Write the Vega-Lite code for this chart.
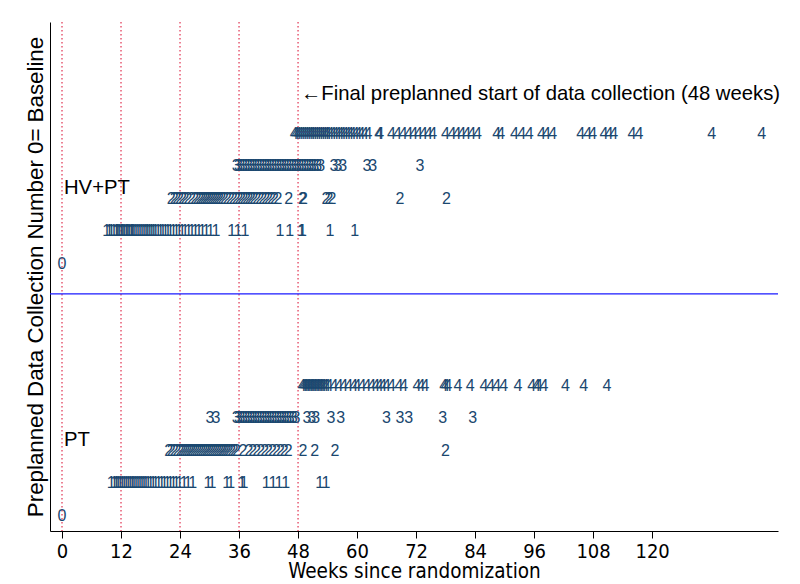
{
  "$schema": "https://vega.github.io/schema/vega-lite/v6.json",
  "width": 728,
  "height": 509,
  "autosize": {"type": "none"},
  "padding": {"left": 50, "top": 22, "right": 22, "bottom": 53},
  "background": "white",
  "config": {"view": {"stroke": null}},
  "datasets": {
    "pts": [
      {"a":"H","n":"0","y":7.73,"w":0},
      {"a":"H","n":"1","y":8.73,"w":9.1},{"a":"H","n":"1","y":8.73,"w":9.6},{"a":"H","n":"1","y":8.73,"w":10},{"a":"H","n":"1","y":8.73,"w":10.5},{"a":"H","n":"1","y":8.73,"w":11},{"a":"H","n":"1","y":8.73,"w":11.3},{"a":"H","n":"1","y":8.73,"w":11.6},{"a":"H","n":"1","y":8.73,"w":12},{"a":"H","n":"1","y":8.73,"w":12.3},{"a":"H","n":"1","y":8.73,"w":12.6},{"a":"H","n":"1","y":8.73,"w":13},{"a":"H","n":"1","y":8.73,"w":13.3},{"a":"H","n":"1","y":8.73,"w":13.6},{"a":"H","n":"1","y":8.73,"w":14},{"a":"H","n":"1","y":8.73,"w":14.3},{"a":"H","n":"1","y":8.73,"w":14.6},{"a":"H","n":"1","y":8.73,"w":15},{"a":"H","n":"1","y":8.73,"w":15.4},{"a":"H","n":"1","y":8.73,"w":15.8},{"a":"H","n":"1","y":8.73,"w":16.2},{"a":"H","n":"1","y":8.73,"w":16.6},{"a":"H","n":"1","y":8.73,"w":17},{"a":"H","n":"1","y":8.73,"w":17.4},{"a":"H","n":"1","y":8.73,"w":17.8},{"a":"H","n":"1","y":8.73,"w":18.2},{"a":"H","n":"1","y":8.73,"w":18.6},{"a":"H","n":"1","y":8.73,"w":19},{"a":"H","n":"1","y":8.73,"w":19.5},{"a":"H","n":"1","y":8.73,"w":20},{"a":"H","n":"1","y":8.73,"w":20.5},{"a":"H","n":"1","y":8.73,"w":21},{"a":"H","n":"1","y":8.73,"w":21.5},{"a":"H","n":"1","y":8.73,"w":22},{"a":"H","n":"1","y":8.73,"w":22.6},{"a":"H","n":"1","y":8.73,"w":23.2},{"a":"H","n":"1","y":8.73,"w":23.8},{"a":"H","n":"1","y":8.73,"w":24.4},{"a":"H","n":"1","y":8.73,"w":25},{"a":"H","n":"1","y":8.73,"w":25.7},{"a":"H","n":"1","y":8.73,"w":26.4},{"a":"H","n":"1","y":8.73,"w":27.1},{"a":"H","n":"1","y":8.73,"w":27.8},{"a":"H","n":"1","y":8.73,"w":28.5},{"a":"H","n":"1","y":8.73,"w":29.3},{"a":"H","n":"1","y":8.73,"w":30.2},{"a":"H","n":"1","y":8.73,"w":31.3},{"a":"H","n":"1","y":8.73,"w":34.5},{"a":"H","n":"1","y":8.73,"w":35.8},{"a":"H","n":"1","y":8.73,"w":37.2},{"a":"H","n":"1","y":8.73,"w":44.3},{"a":"H","n":"1","y":8.73,"w":46.3},{"a":"H","n":"1","y":8.73,"w":48.7},{"a":"H","n":"1","y":8.73,"w":48.9},{"a":"H","n":"1","y":8.73,"w":54.5},{"a":"H","n":"1","y":8.73,"w":59.5},
      {"a":"H","n":"2","y":9.73,"w":22.2},{"a":"H","n":"2","y":9.73,"w":22.8},{"a":"H","n":"2","y":9.73,"w":23.3},{"a":"H","n":"2","y":9.73,"w":23.9},{"a":"H","n":"2","y":9.73,"w":24.5},{"a":"H","n":"2","y":9.73,"w":25},{"a":"H","n":"2","y":9.73,"w":25.6},{"a":"H","n":"2","y":9.73,"w":26.3},{"a":"H","n":"2","y":9.73,"w":27},{"a":"H","n":"2","y":9.73,"w":27.5},{"a":"H","n":"2","y":9.73,"w":28},{"a":"H","n":"2","y":9.73,"w":28.4},{"a":"H","n":"2","y":9.73,"w":28.8},{"a":"H","n":"2","y":9.73,"w":29.2},{"a":"H","n":"2","y":9.73,"w":29.6},{"a":"H","n":"2","y":9.73,"w":30},{"a":"H","n":"2","y":9.73,"w":30.4},{"a":"H","n":"2","y":9.73,"w":30.8},{"a":"H","n":"2","y":9.73,"w":31.2},{"a":"H","n":"2","y":9.73,"w":31.6},{"a":"H","n":"2","y":9.73,"w":32},{"a":"H","n":"2","y":9.73,"w":32.5},{"a":"H","n":"2","y":9.73,"w":33},{"a":"H","n":"2","y":9.73,"w":33.6},{"a":"H","n":"2","y":9.73,"w":34.2},{"a":"H","n":"2","y":9.73,"w":34.8},{"a":"H","n":"2","y":9.73,"w":35.4},{"a":"H","n":"2","y":9.73,"w":36},{"a":"H","n":"2","y":9.73,"w":36.5},{"a":"H","n":"2","y":9.73,"w":37},{"a":"H","n":"2","y":9.73,"w":37.5},{"a":"H","n":"2","y":9.73,"w":38},{"a":"H","n":"2","y":9.73,"w":38.5},{"a":"H","n":"2","y":9.73,"w":39},{"a":"H","n":"2","y":9.73,"w":39.6},{"a":"H","n":"2","y":9.73,"w":40.2},{"a":"H","n":"2","y":9.73,"w":40.8},{"a":"H","n":"2","y":9.73,"w":41.4},{"a":"H","n":"2","y":9.73,"w":42},{"a":"H","n":"2","y":9.73,"w":42.6},{"a":"H","n":"2","y":9.73,"w":43.2},{"a":"H","n":"2","y":9.73,"w":43.9},{"a":"H","n":"2","y":9.73,"w":46.1},{"a":"H","n":"2","y":9.73,"w":48.9},{"a":"H","n":"2","y":9.73,"w":49.1},{"a":"H","n":"2","y":9.73,"w":53.7},{"a":"H","n":"2","y":9.73,"w":54.3},{"a":"H","n":"2","y":9.73,"w":54.9},{"a":"H","n":"2","y":9.73,"w":68.7},{"a":"H","n":"2","y":9.73,"w":78.2},
      {"a":"H","n":"3","y":10.73,"w":35.4},{"a":"H","n":"3","y":10.73,"w":35.9},{"a":"H","n":"3","y":10.73,"w":36.4},{"a":"H","n":"3","y":10.73,"w":36.9},{"a":"H","n":"3","y":10.73,"w":37.4},{"a":"H","n":"3","y":10.73,"w":37.9},{"a":"H","n":"3","y":10.73,"w":38.4},{"a":"H","n":"3","y":10.73,"w":38.9},{"a":"H","n":"3","y":10.73,"w":39.4},{"a":"H","n":"3","y":10.73,"w":39.9},{"a":"H","n":"3","y":10.73,"w":40.4},{"a":"H","n":"3","y":10.73,"w":40.9},{"a":"H","n":"3","y":10.73,"w":41.4},{"a":"H","n":"3","y":10.73,"w":41.9},{"a":"H","n":"3","y":10.73,"w":42.4},{"a":"H","n":"3","y":10.73,"w":42.9},{"a":"H","n":"3","y":10.73,"w":43.4},{"a":"H","n":"3","y":10.73,"w":43.9},{"a":"H","n":"3","y":10.73,"w":44.4},{"a":"H","n":"3","y":10.73,"w":44.9},{"a":"H","n":"3","y":10.73,"w":45.4},{"a":"H","n":"3","y":10.73,"w":45.9},{"a":"H","n":"3","y":10.73,"w":46.4},{"a":"H","n":"3","y":10.73,"w":46.9},{"a":"H","n":"3","y":10.73,"w":47.4},{"a":"H","n":"3","y":10.73,"w":47.9},{"a":"H","n":"3","y":10.73,"w":48.4},{"a":"H","n":"3","y":10.73,"w":48.9},{"a":"H","n":"3","y":10.73,"w":49.4},{"a":"H","n":"3","y":10.73,"w":49.9},{"a":"H","n":"3","y":10.73,"w":50.4},{"a":"H","n":"3","y":10.73,"w":50.9},{"a":"H","n":"3","y":10.73,"w":51.4},{"a":"H","n":"3","y":10.73,"w":52},{"a":"H","n":"3","y":10.73,"w":52.6},{"a":"H","n":"3","y":10.73,"w":55.3},{"a":"H","n":"3","y":10.73,"w":56.1},{"a":"H","n":"3","y":10.73,"w":57.1},{"a":"H","n":"3","y":10.73,"w":62},{"a":"H","n":"3","y":10.73,"w":63.2},{"a":"H","n":"3","y":10.73,"w":72.8},
      {"a":"H","n":"4","y":11.73,"w":47.2},{"a":"H","n":"4","y":11.73,"w":47.6},{"a":"H","n":"4","y":11.73,"w":48},{"a":"H","n":"4","y":11.73,"w":48.4},{"a":"H","n":"4","y":11.73,"w":48.8},{"a":"H","n":"4","y":11.73,"w":49.2},{"a":"H","n":"4","y":11.73,"w":49.6},{"a":"H","n":"4","y":11.73,"w":50},{"a":"H","n":"4","y":11.73,"w":50.4},{"a":"H","n":"4","y":11.73,"w":50.8},{"a":"H","n":"4","y":11.73,"w":51.2},{"a":"H","n":"4","y":11.73,"w":51.6},{"a":"H","n":"4","y":11.73,"w":52},{"a":"H","n":"4","y":11.73,"w":52.4},{"a":"H","n":"4","y":11.73,"w":52.8},{"a":"H","n":"4","y":11.73,"w":53.2},{"a":"H","n":"4","y":11.73,"w":53.6},{"a":"H","n":"4","y":11.73,"w":54},{"a":"H","n":"4","y":11.73,"w":54.5},{"a":"H","n":"4","y":11.73,"w":55},{"a":"H","n":"4","y":11.73,"w":55.5},{"a":"H","n":"4","y":11.73,"w":56},{"a":"H","n":"4","y":11.73,"w":56.5},{"a":"H","n":"4","y":11.73,"w":57},{"a":"H","n":"4","y":11.73,"w":57.5},{"a":"H","n":"4","y":11.73,"w":58},{"a":"H","n":"4","y":11.73,"w":58.5},{"a":"H","n":"4","y":11.73,"w":59},{"a":"H","n":"4","y":11.73,"w":59.6},{"a":"H","n":"4","y":11.73,"w":60.2},{"a":"H","n":"4","y":11.73,"w":60.8},{"a":"H","n":"4","y":11.73,"w":61.5},{"a":"H","n":"4","y":11.73,"w":62.2},{"a":"H","n":"4","y":11.73,"w":64.4},{"a":"H","n":"4","y":11.73,"w":64.6},{"a":"H","n":"4","y":11.73,"w":67},{"a":"H","n":"4","y":11.73,"w":68.2},{"a":"H","n":"4","y":11.73,"w":69.4},{"a":"H","n":"4","y":11.73,"w":70.5},{"a":"H","n":"4","y":11.73,"w":71.5},{"a":"H","n":"4","y":11.73,"w":72.5},{"a":"H","n":"4","y":11.73,"w":73.5},{"a":"H","n":"4","y":11.73,"w":74.5},{"a":"H","n":"4","y":11.73,"w":75.4},{"a":"H","n":"4","y":11.73,"w":78},{"a":"H","n":"4","y":11.73,"w":79.3},{"a":"H","n":"4","y":11.73,"w":80.3},{"a":"H","n":"4","y":11.73,"w":81.3},{"a":"H","n":"4","y":11.73,"w":82.3},{"a":"H","n":"4","y":11.73,"w":83.3},{"a":"H","n":"4","y":11.73,"w":84.5},{"a":"H","n":"4","y":11.73,"w":88.4},{"a":"H","n":"4","y":11.73,"w":89.2},{"a":"H","n":"4","y":11.73,"w":92},{"a":"H","n":"4","y":11.73,"w":93.5},{"a":"H","n":"4","y":11.73,"w":95},{"a":"H","n":"4","y":11.73,"w":97.5},{"a":"H","n":"4","y":11.73,"w":98.5},{"a":"H","n":"4","y":11.73,"w":99.8},{"a":"H","n":"4","y":11.73,"w":105.5},{"a":"H","n":"4","y":11.73,"w":106.9},{"a":"H","n":"4","y":11.73,"w":107.9},{"a":"H","n":"4","y":11.73,"w":110.2},{"a":"H","n":"4","y":11.73,"w":111.2},{"a":"H","n":"4","y":11.73,"w":112.2},{"a":"H","n":"4","y":11.73,"w":115.9},{"a":"H","n":"4","y":11.73,"w":117.3},{"a":"H","n":"4","y":11.73,"w":132.1},{"a":"H","n":"4","y":11.73,"w":142.3},
      {"a":"P","n":"0","y":0,"w":0},
      {"a":"P","n":"1","y":1,"w":10},{"a":"P","n":"1","y":1,"w":10.6},{"a":"P","n":"1","y":1,"w":11},{"a":"P","n":"1","y":1,"w":11.4},{"a":"P","n":"1","y":1,"w":11.8},{"a":"P","n":"1","y":1,"w":12.2},{"a":"P","n":"1","y":1,"w":12.6},{"a":"P","n":"1","y":1,"w":13},{"a":"P","n":"1","y":1,"w":13.4},{"a":"P","n":"1","y":1,"w":13.8},{"a":"P","n":"1","y":1,"w":14.2},{"a":"P","n":"1","y":1,"w":14.6},{"a":"P","n":"1","y":1,"w":15},{"a":"P","n":"1","y":1,"w":15.4},{"a":"P","n":"1","y":1,"w":15.8},{"a":"P","n":"1","y":1,"w":16.2},{"a":"P","n":"1","y":1,"w":16.6},{"a":"P","n":"1","y":1,"w":17},{"a":"P","n":"1","y":1,"w":17.5},{"a":"P","n":"1","y":1,"w":18},{"a":"P","n":"1","y":1,"w":18.5},{"a":"P","n":"1","y":1,"w":19},{"a":"P","n":"1","y":1,"w":19.6},{"a":"P","n":"1","y":1,"w":20.2},{"a":"P","n":"1","y":1,"w":20.8},{"a":"P","n":"1","y":1,"w":21.4},{"a":"P","n":"1","y":1,"w":22},{"a":"P","n":"1","y":1,"w":22.6},{"a":"P","n":"1","y":1,"w":23.2},{"a":"P","n":"1","y":1,"w":23.9},{"a":"P","n":"1","y":1,"w":24.8},{"a":"P","n":"1","y":1,"w":25.6},{"a":"P","n":"1","y":1,"w":26.6},{"a":"P","n":"1","y":1,"w":29.7},{"a":"P","n":"1","y":1,"w":30.5},{"a":"P","n":"1","y":1,"w":33.5},{"a":"P","n":"1","y":1,"w":34.3},{"a":"P","n":"1","y":1,"w":36.6},{"a":"P","n":"1","y":1,"w":37},{"a":"P","n":"1","y":1,"w":41.5},{"a":"P","n":"1","y":1,"w":42.9},{"a":"P","n":"1","y":1,"w":44.1},{"a":"P","n":"1","y":1,"w":45.5},{"a":"P","n":"1","y":1,"w":52.4},{"a":"P","n":"1","y":1,"w":53.7},
      {"a":"P","n":"2","y":2,"w":21.7},{"a":"P","n":"2","y":2,"w":22.2},{"a":"P","n":"2","y":2,"w":22.8},{"a":"P","n":"2","y":2,"w":23.4},{"a":"P","n":"2","y":2,"w":24},{"a":"P","n":"2","y":2,"w":24.4},{"a":"P","n":"2","y":2,"w":24.8},{"a":"P","n":"2","y":2,"w":25.2},{"a":"P","n":"2","y":2,"w":25.6},{"a":"P","n":"2","y":2,"w":26},{"a":"P","n":"2","y":2,"w":26.4},{"a":"P","n":"2","y":2,"w":26.8},{"a":"P","n":"2","y":2,"w":27.2},{"a":"P","n":"2","y":2,"w":27.6},{"a":"P","n":"2","y":2,"w":28},{"a":"P","n":"2","y":2,"w":28.4},{"a":"P","n":"2","y":2,"w":28.8},{"a":"P","n":"2","y":2,"w":29.2},{"a":"P","n":"2","y":2,"w":29.6},{"a":"P","n":"2","y":2,"w":30},{"a":"P","n":"2","y":2,"w":30.4},{"a":"P","n":"2","y":2,"w":30.8},{"a":"P","n":"2","y":2,"w":31.2},{"a":"P","n":"2","y":2,"w":31.6},{"a":"P","n":"2","y":2,"w":32},{"a":"P","n":"2","y":2,"w":32.4},{"a":"P","n":"2","y":2,"w":32.8},{"a":"P","n":"2","y":2,"w":33.2},{"a":"P","n":"2","y":2,"w":33.6},{"a":"P","n":"2","y":2,"w":34},{"a":"P","n":"2","y":2,"w":34.5},{"a":"P","n":"2","y":2,"w":35},{"a":"P","n":"2","y":2,"w":35.5},{"a":"P","n":"2","y":2,"w":36.8},{"a":"P","n":"2","y":2,"w":38},{"a":"P","n":"2","y":2,"w":38.8},{"a":"P","n":"2","y":2,"w":39.6},{"a":"P","n":"2","y":2,"w":40.4},{"a":"P","n":"2","y":2,"w":41.2},{"a":"P","n":"2","y":2,"w":42},{"a":"P","n":"2","y":2,"w":42.8},{"a":"P","n":"2","y":2,"w":43.6},{"a":"P","n":"2","y":2,"w":44.4},{"a":"P","n":"2","y":2,"w":45.2},{"a":"P","n":"2","y":2,"w":46},{"a":"P","n":"2","y":2,"w":49},{"a":"P","n":"2","y":2,"w":51.4},{"a":"P","n":"2","y":2,"w":55.5},{"a":"P","n":"2","y":2,"w":78},
      {"a":"P","n":"3","y":3,"w":30.1},{"a":"P","n":"3","y":3,"w":31.3},{"a":"P","n":"3","y":3,"w":35.4},{"a":"P","n":"3","y":3,"w":35.9},{"a":"P","n":"3","y":3,"w":36.4},{"a":"P","n":"3","y":3,"w":36.9},{"a":"P","n":"3","y":3,"w":37.4},{"a":"P","n":"3","y":3,"w":37.9},{"a":"P","n":"3","y":3,"w":38.4},{"a":"P","n":"3","y":3,"w":38.9},{"a":"P","n":"3","y":3,"w":39.4},{"a":"P","n":"3","y":3,"w":39.9},{"a":"P","n":"3","y":3,"w":40.4},{"a":"P","n":"3","y":3,"w":40.9},{"a":"P","n":"3","y":3,"w":41.4},{"a":"P","n":"3","y":3,"w":41.9},{"a":"P","n":"3","y":3,"w":42.4},{"a":"P","n":"3","y":3,"w":42.9},{"a":"P","n":"3","y":3,"w":43.4},{"a":"P","n":"3","y":3,"w":43.9},{"a":"P","n":"3","y":3,"w":44.4},{"a":"P","n":"3","y":3,"w":44.9},{"a":"P","n":"3","y":3,"w":45.4},{"a":"P","n":"3","y":3,"w":45.9},{"a":"P","n":"3","y":3,"w":46.4},{"a":"P","n":"3","y":3,"w":47},{"a":"P","n":"3","y":3,"w":47.6},{"a":"P","n":"3","y":3,"w":49.8},{"a":"P","n":"3","y":3,"w":50.8},{"a":"P","n":"3","y":3,"w":51.6},{"a":"P","n":"3","y":3,"w":54.7},{"a":"P","n":"3","y":3,"w":56.7},{"a":"P","n":"3","y":3,"w":66},{"a":"P","n":"3","y":3,"w":68.7},{"a":"P","n":"3","y":3,"w":70.5},{"a":"P","n":"3","y":3,"w":77.4},{"a":"P","n":"3","y":3,"w":83.5},
      {"a":"P","n":"4","y":4,"w":48.8},{"a":"P","n":"4","y":4,"w":49.1},{"a":"P","n":"4","y":4,"w":49.4},{"a":"P","n":"4","y":4,"w":49.7},{"a":"P","n":"4","y":4,"w":50},{"a":"P","n":"4","y":4,"w":50.3},{"a":"P","n":"4","y":4,"w":50.6},{"a":"P","n":"4","y":4,"w":50.9},{"a":"P","n":"4","y":4,"w":51.2},{"a":"P","n":"4","y":4,"w":51.5},{"a":"P","n":"4","y":4,"w":51.8},{"a":"P","n":"4","y":4,"w":52.1},{"a":"P","n":"4","y":4,"w":52.4},{"a":"P","n":"4","y":4,"w":52.7},{"a":"P","n":"4","y":4,"w":53},{"a":"P","n":"4","y":4,"w":53.4},{"a":"P","n":"4","y":4,"w":53.8},{"a":"P","n":"4","y":4,"w":54.3},{"a":"P","n":"4","y":4,"w":55.3},{"a":"P","n":"4","y":4,"w":56.3},{"a":"P","n":"4","y":4,"w":57.3},{"a":"P","n":"4","y":4,"w":58.3},{"a":"P","n":"4","y":4,"w":59.3},{"a":"P","n":"4","y":4,"w":60},{"a":"P","n":"4","y":4,"w":61},{"a":"P","n":"4","y":4,"w":62},{"a":"P","n":"4","y":4,"w":63},{"a":"P","n":"4","y":4,"w":63.8},{"a":"P","n":"4","y":4,"w":64.5},{"a":"P","n":"4","y":4,"w":65.2},{"a":"P","n":"4","y":4,"w":66},{"a":"P","n":"4","y":4,"w":67},{"a":"P","n":"4","y":4,"w":68.5},{"a":"P","n":"4","y":4,"w":69.5},{"a":"P","n":"4","y":4,"w":72.2},{"a":"P","n":"4","y":4,"w":73},{"a":"P","n":"4","y":4,"w":73.8},{"a":"P","n":"4","y":4,"w":77.6},{"a":"P","n":"4","y":4,"w":78},{"a":"P","n":"4","y":4,"w":78.5},{"a":"P","n":"4","y":4,"w":80.5},{"a":"P","n":"4","y":4,"w":83},{"a":"P","n":"4","y":4,"w":85.8},{"a":"P","n":"4","y":4,"w":87.2},{"a":"P","n":"4","y":4,"w":88.4},{"a":"P","n":"4","y":4,"w":89.8},{"a":"P","n":"4","y":4,"w":92.7},{"a":"P","n":"4","y":4,"w":95.5},{"a":"P","n":"4","y":4,"w":96.5},{"a":"P","n":"4","y":4,"w":96.9},{"a":"P","n":"4","y":4,"w":98},{"a":"P","n":"4","y":4,"w":102.4},{"a":"P","n":"4","y":4,"w":106.1},{"a":"P","n":"4","y":4,"w":110.8}
    ],
    "vlines": [{"w":0},{"w":12},{"w":24},{"w":36},{"w":48}],
    "hline": [{"y":6.81}],
    "labels": [
      {"t":"←Final preplanned start of data collection (48 weeks)","w":48.6,"y":12.94},
      {"t":"HV+PT","w":0.4,"y":10.06},
      {"t":"PT","w":0.4,"y":2.33}
    ]
  },
  "layer": [
    {
      "data": {"name": "vlines"},
      "mark": {"type": "rule", "color": "#e0304f", "strokeWidth": 1.2, "strokeDash": [1.5, 2.5]},
      "encoding": {
        "x": {"field": "w", "type": "quantitative", "scale": {"domain": [-2.44, 145.6], "nice": false, "zero": false},
          "axis": {"values": [0,12,24,36,48,60,72,84,96,108,120], "grid": false, "tickSize": 7, "tickColor": "black", "domainColor": "black",
            "labelFont": "Liberation Sans Narrow, DejaVu Sans Condensed, sans-serif", "labelFontSize": 20, "labelColor": "black", "labelPadding": 3,
            "title": "Weeks since randomization", "titleFont": "Liberation Sans Narrow, DejaVu Sans Condensed, sans-serif", "titleFontSize": 20.5, "titleFontWeight": "normal", "titleColor": "black", "titlePadding": 0}}
      }
    },
    {
      "data": {"name": "hline"},
      "mark": {"type": "rule", "color": "#1a1aff", "strokeWidth": 1.2},
      "encoding": {
        "y": {"field": "y", "type": "quantitative", "scale": {"domain": [-0.46, 15.15], "nice": false, "zero": false},
          "axis": {"labels": false, "ticks": false, "grid": false, "domainColor": "black",
            "title": "Preplanned Data Collection Number 0= Baseline", "titleFont": "Liberation Sans, Arial, sans-serif", "titleFontSize": 22.3, "titleFontWeight": "normal", "titleColor": "black", "titlePadding": 3}}
      }
    },
    {
      "data": {"name": "pts"},
      "mark": {"type": "text", "color": "#1a476f", "font": "Liberation Sans, Arial, sans-serif", "fontSize": 16, "baseline": "middle", "align": "center"},
      "encoding": {
        "x": {"field": "w", "type": "quantitative"},
        "y": {"field": "y", "type": "quantitative"},
        "text": {"field": "n"}
      }
    },
    {
      "data": {"name": "labels"},
      "mark": {"type": "text", "color": "black", "font": "Liberation Sans, Arial, sans-serif", "fontSize": 20.3, "baseline": "middle", "align": "left"},
      "encoding": {
        "x": {"field": "w", "type": "quantitative"},
        "y": {"field": "y", "type": "quantitative"},
        "text": {"field": "t"}
      }
    }
  ]
}
